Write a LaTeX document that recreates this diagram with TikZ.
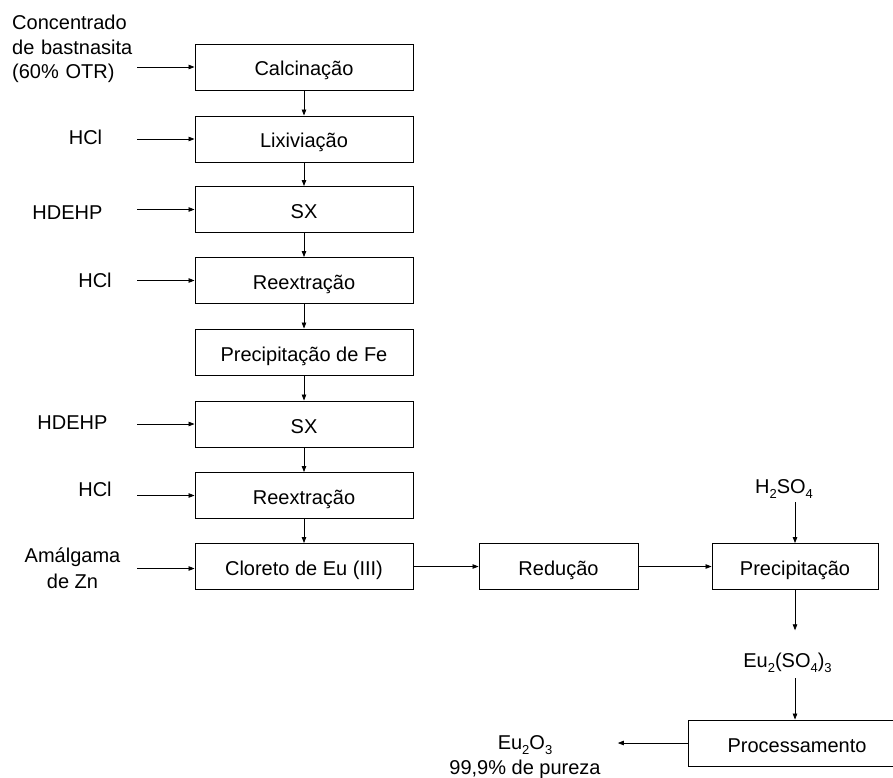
\documentclass[tikz,border=0pt]{standalone}
\usepackage{fontspec}
\setmainfont{Liberation Sans}
\usetikzlibrary{arrows.meta}
% chemical index: smaller digits, lowered below the baseline
\newcommand\lowidx[1]{\raisebox{-5pt}{\fontsize{13}{13}\selectfont #1}}

\begin{document}
\begin{tikzpicture}[x=1pt, y=-1pt,
  every node/.style={font=\fontsize{20}{24.5}\selectfont},
  stage/.style={draw=black, line width=0.9pt, minimum width=218pt,
    minimum height=46pt, inner sep=0pt, text height=18pt, text depth=0pt},
  side/.style={inner sep=0pt},
  arr/.style={-{Triangle[length=6pt,width=4.5pt]}, line width=0.8pt}]

\clip (0,0) rectangle (893,778);

% main process column
\node[stage] (calcin)  at (304,67)    {Calcinação};
\node[stage] (lixiv)   at (304,139)   {Lixiviação};
\node[stage] (sxa)     at (304,209.5) {SX};
\node[stage] (reexa)   at (304,280.5) {Reextração};
\node[stage] (precfe)  at (304,352)   {Precipitação de Fe};
\node[stage] (sxb)     at (304,424)   {SX};
\node[stage] (reexb)   at (304,495.5) {Reextração};
\node[stage] (cloreto) at (304,566.5) {Cloreto de Eu (III)};

% europium line
\node[stage, minimum width=159pt] (reducao) at (558.5,566.5) {Redução};
\node[stage, minimum width=166pt] (precip)  at (795,566.5)   {Precipitação};
\node[stage] (proc) at (797,743) {Processamento};

% reagents entering from the left
\node[anchor=west, align=left, text width=125pt, inner sep=0pt] (feed) at (12,49)
  {Concentrado\\de bastnasita\\(60\% OTR)};
\node[side, minimum width=103pt] (hcla)   at (85.5,137) {HCl};
\node[side, minimum width=139pt] (hdehpa) at (67.5,213) {HDEHP};
\node[side, minimum width=84pt]  (hclb)   at (95,280)   {HCl};
\node[side, minimum width=129pt] (hdehpb) at (72.5,423) {HDEHP};
\node[side, minimum width=84pt]  (hclc)   at (95,489)   {HCl};
\node[side, minimum width=129pt, align=center, font=\fontsize{20}{26}\selectfont]
  (zinc) at (72.5,568) {Amálgama\\de Zn};

% species labels
\node[inner sep=0pt, anchor=base] (acid) at (784,493) {H\lowidx{2}SO\lowidx{4}};
\node[inner sep=0pt, anchor=base] (sulf) at (787.5,667) {Eu\lowidx{2}(SO\lowidx{4})\lowidx{3}};
\node[inner sep=0pt, align=center, font=\fontsize{20}{25}\selectfont] (oxide) at (525,757)
  {Eu\lowidx{2}O\lowidx{3}\\99,9\% de pureza};

% flow down the main column
\draw[arr] (calcin) -- (lixiv);
\draw[arr] (lixiv)  -- (sxa);
\draw[arr] (sxa)    -- (reexa);
\draw[arr] (reexa)  -- (precfe);
\draw[arr] (precfe) -- (sxb);
\draw[arr] (sxb)    -- (reexb);
\draw[arr] (reexb)  -- (cloreto);

% reagent feeds
\draw[arr] (feed.east |- calcin)    -- (calcin.west);
\draw[arr] (hcla.east |- lixiv)     -- (lixiv.west);
\draw[arr] (hdehpa.east |- sxa)     -- (sxa.west);
\draw[arr] (hclb.east |- reexa)     -- (reexa.west);
\draw[arr] (hdehpb.east |- sxb)     -- (sxb.west);
\draw[arr] (hclc.east |- reexb)     -- (reexb.west);
\draw[arr] ([yshift=-2pt]zinc.east |- cloreto) -- ([yshift=-2pt]cloreto.west);

% europium branch
\draw[arr] (cloreto) -- (reducao);
\draw[arr] (reducao) -- (precip);
\draw[arr, shorten <=4pt] (acid.south -| precip.north) -- (precip.north);
\draw[arr, shorten >=22pt] (precip.south) -- (precip.south |- sulf.north);
\draw[arr, shorten <=6pt] (precip.south |- sulf.south) -- (precip.south |- proc.north);
\draw[arr, shorten >=17pt] (proc.west) -- (proc.west -| oxide.east);

\end{tikzpicture}
\end{document}
